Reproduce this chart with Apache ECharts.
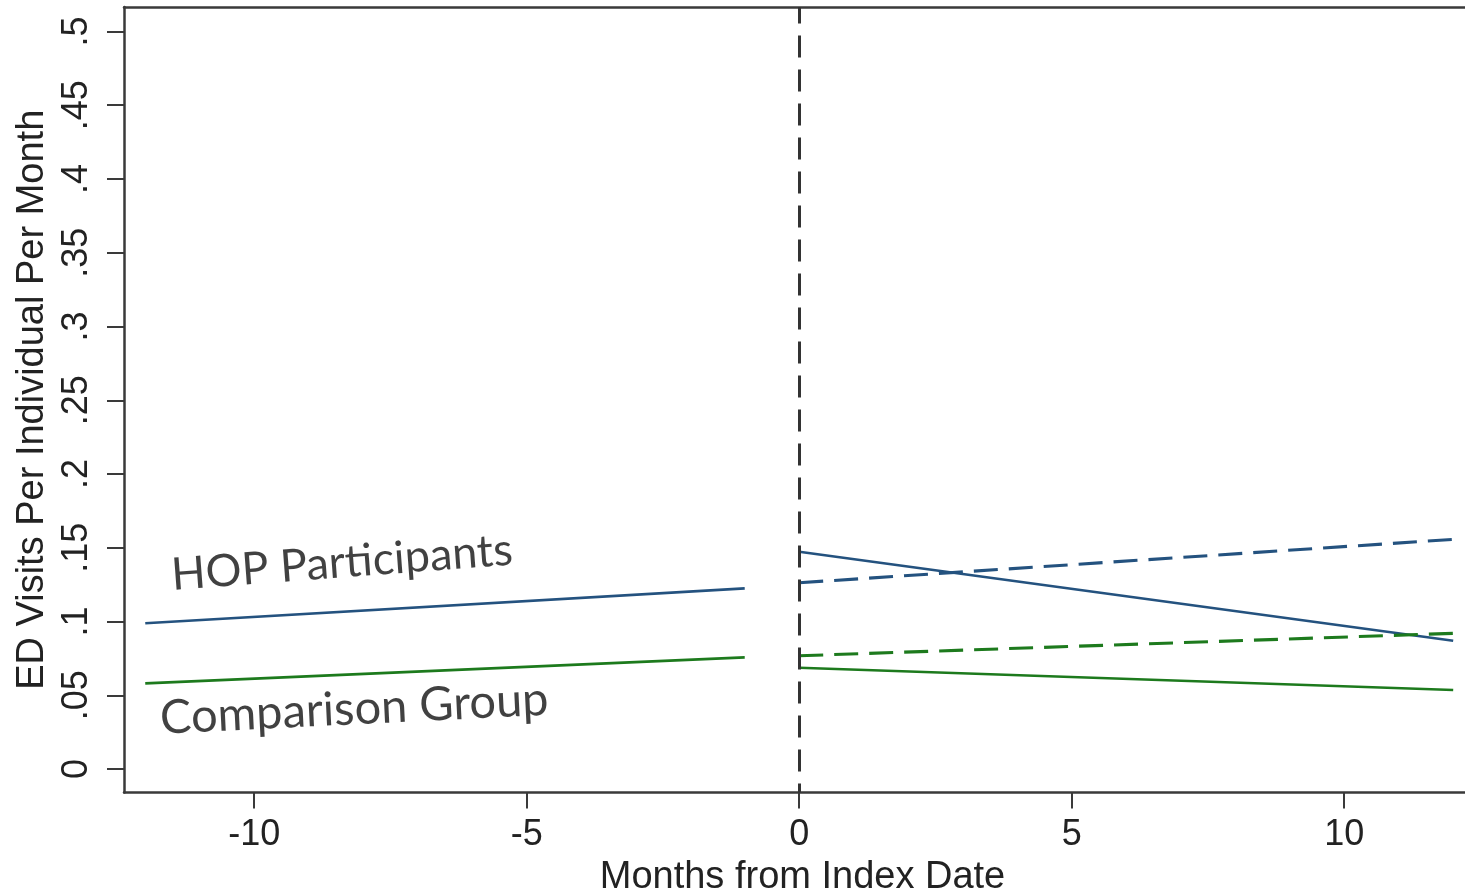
<!DOCTYPE html>
<html>
<head>
<meta charset="utf-8">
<script src="https://cdn.jsdelivr.net/npm/echarts@6/dist/echarts.min.js"></script>
<style>
  html, body { margin: 0; padding: 0; background: #fff; overflow: hidden; }
  #chart { width: 1465px; height: 893px; }
</style>
</head>
<body>
<div id="chart"></div>
<script>
// Month ticks on the x axis and rate ticks on the y axis
const xTickValues = [-10, -5, 0, 5, 10];
const yTickValues = [0, 0.05, 0.1, 0.15, 0.2, 0.25, 0.3, 0.35, 0.4, 0.45, 0.5];
const yTickLabels = ['0', '.05', '.1', '.15', '.2', '.25', '.3', '.35', '.4', '.45', '.5'];

// Fitted segments: [month, ED visits per individual per month]
const hopPre = [[-12, 0.0988], [-1, 0.1225]];
const compPre = [[-12, 0.0581], [-1, 0.0757]];
const hopPost = [[0, 0.1473], [12, 0.087]];
const hopPostTrend = [[0, 0.1263], [12, 0.1557]];
const compPost = [[0, 0.0687], [12, 0.0536]];
const compPostTrend = [[0, 0.0768], [12, 0.092]];

// Index date marker
const indexMonth = 0;

// Group annotations: text, anchor [month, value], tilt in degrees, size
const groupLabels = [
  { text: 'HOP Participants', at: [-11.58, 0.1159], tilt: 4.3, size: 45 },
  { text: 'Comparison Group', at: [-11.8, 0.0183], tilt: 2.8, size: 47 }
];

const BLUE = '#24527f';
const GREEN = '#1d7a1d';
const AXIS = '#3a3a3a';

function segment(data, color, dashed) {
  return {
    type: 'line',
    data: data,
    symbol: 'none',
    silent: true,
    animation: false,
    lineStyle: {
      color: color,
      width: dashed ? 3.1 : 2.6,
      type: dashed ? [24, 11] : 'solid'
    }
  };
}

const chart = echarts.init(document.getElementById('chart'), null, { renderer: 'canvas' });

const series = [
  segment(hopPre, BLUE, false),
  segment(compPre, GREEN, false),
  segment(hopPost, BLUE, false),
  segment(hopPostTrend, BLUE, true),
  segment(compPost, GREEN, false),
  segment(compPostTrend, GREEN, true),
  {
    type: 'line',
    data: [],
    silent: true,
    animation: false,
    markLine: {
      symbol: 'none',
      silent: true,
      animation: false,
      label: { show: false },
      lineStyle: { color: '#333', width: 3, type: [22, 12], dashOffset: 13 },
      data: [{ xAxis: indexMonth }]
    }
  },
  {
    type: 'scatter',
    silent: true,
    animation: false,
    symbolSize: 0,
    data: groupLabels.map(g => ({
      value: g.at,
      label: {
        show: true,
        formatter: g.text,
        rotate: g.tilt,
        position: 'insideLeft',
        align: 'left',
        verticalAlign: 'bottom',
        fontFamily: 'Lato',
        fontSize: g.size,
        color: '#111'
      }
    }))
  }
];

const xMin = -12.39, xMax = 12.29;

chart.setOption({
  backgroundColor: '#fff',
  animation: false,
  grid: {
    left: 124, right: -4, top: 7, bottom: 100.5,
    show: false, containLabel: false, outerBoundsMode: 'none'
  },
  xAxis: [
    {
      type: 'value',
      min: xMin,
      max: xMax,
      name: 'Months from Index Date',
      nameLocation: 'middle',
      nameGap: 64,
      nameTextStyle: { fontFamily: 'Liberation Sans', fontSize: 38, color: '#222', padding: [0, 0, 0, 12] },
      axisLine: { show: true, onZero: false, lineStyle: { color: AXIS, width: 2.5 } },
      axisTick: { show: true, customValues: xTickValues, length: 16, lineStyle: { color: AXIS, width: 2 } },
      axisLabel: {
        customValues: xTickValues,
        margin: 25,
        fontFamily: 'Liberation Sans',
        fontSize: 36,
        color: '#222'
      },
      splitLine: { show: false }
    },
    {
      // plain top frame edge
      type: 'value',
      position: 'top',
      min: xMin,
      max: xMax,
      axisLine: { show: true, onZero: false, lineStyle: { color: AXIS, width: 2.5 } },
      axisTick: { show: false },
      axisLabel: { show: false },
      splitLine: { show: false }
    }
  ],
  yAxis: {
    type: 'value',
    min: -0.0159,
    max: 0.5166,
    name: 'ED Visits Per Individual Per Month',
    nameLocation: 'middle',
    nameGap: 67,
    nameRotate: 90,
    nameTextStyle: { fontFamily: 'Liberation Sans', fontSize: 38, color: '#222' },
    axisLine: { show: true, onZero: false, lineStyle: { color: AXIS, width: 2.5 } },
    axisTick: { show: true, customValues: yTickValues, length: 17, lineStyle: { color: AXIS, width: 2 } },
    axisLabel: {
      customValues: yTickValues,
      rotate: 90,
      margin: 29,
      fontFamily: 'Liberation Sans',
      fontSize: 36,
      color: '#222',
      formatter: function (v) {
        const i = yTickValues.findIndex(t => Math.abs(t - v) < 1e-9);
        return i >= 0 ? yTickLabels[i] : '';
      }
    },
    splitLine: { show: false }
  },
  series: series
});
</script>
</body>
</html>
